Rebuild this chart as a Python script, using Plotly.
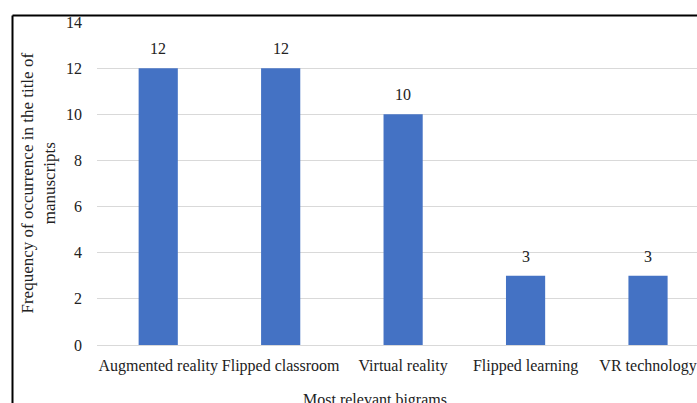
import plotly.graph_objects as go

# Bigram frequencies in manuscript titles
bigrams = ["Augmented reality", "Flipped classroom", "Virtual reality",
           "Flipped learning", "VR technology"]
counts = [12, 12, 10, 3, 3]
y_ticks = [0, 2, 4, 6, 8, 10, 12, 14]

W, H = 697, 403
L, R, T, B = 97, 0, 22, 58
pw, ph = W - L - R, H - T - B


def px_x(px):
    return (px - L) / pw


def px_y(py):
    return (H - B - py) / ph


SERIF = "Liberation Serif, Times New Roman, serif"
font = dict(family=SERIF, size=16, color="#222222")

fig = go.Figure(
    go.Bar(
        x=bigrams,
        y=counts,
        marker=dict(color="#4472C4", line=dict(width=0)),
        width=0.32,
        hoverinfo="x+y",
    )
)

# value labels above each bar
value_labels = [
    dict(x=b, y=c, text=str(c), xref="x", yref="y",
         xanchor="center", yanchor="bottom", yshift=9,
         showarrow=False, font=font)
    for b, c in zip(bigrams, counts)
]

fig.update_layout(
    width=W,
    height=H,
    margin=dict(l=L, r=R, t=T, b=B, pad=0),
    paper_bgcolor="white",
    plot_bgcolor="white",
    font=font,
    showlegend=False,
    xaxis=dict(
        range=[-0.5, 4.4],
        showgrid=False,
        showline=True,
        linecolor="#d9d9d9",
        linewidth=1,
        ticks="",
        tickfont=font,
        ticklabelstandoff=6,
    ),
    yaxis=dict(
        range=[0, 14],
        tickvals=y_ticks,
        showgrid=True,
        gridcolor="#d9d9d9",
        gridwidth=1,
        zeroline=False,
        showline=False,
        ticks="",
        tickfont=font,
        ticklabelstandoff=14,
    ),
    annotations=value_labels + [
        dict(
            text="Frequency of occurrence in the title of<br>manuscripts",
            xref="paper", yref="paper",
            x=px_x(38), y=0.5,
            xanchor="center", yanchor="middle",
            textangle=-90, showarrow=False,
            font=dict(family=SERIF, size=17, color="#222222"),
        ),
        dict(
            text="Most relevant bigrams",
            xref="paper", yref="paper",
            x=px_x(375), y=px_y(400),
            xanchor="center", yanchor="middle",
            showarrow=False,
            font=font,
        ),
    ],
    shapes=[
        # outer frame: top and left edges
        dict(type="line", xref="paper", yref="paper",
             x0=px_x(12.5), x1=px_x(700), y0=px_y(15.5), y1=px_y(15.5),
             line=dict(color="black", width=2)),
        dict(type="line", xref="paper", yref="paper",
             x0=px_x(12.5), x1=px_x(12.5), y0=px_y(15.5), y1=px_y(405),
             line=dict(color="black", width=2)),
    ],
)

fig.write_html("out.html")
